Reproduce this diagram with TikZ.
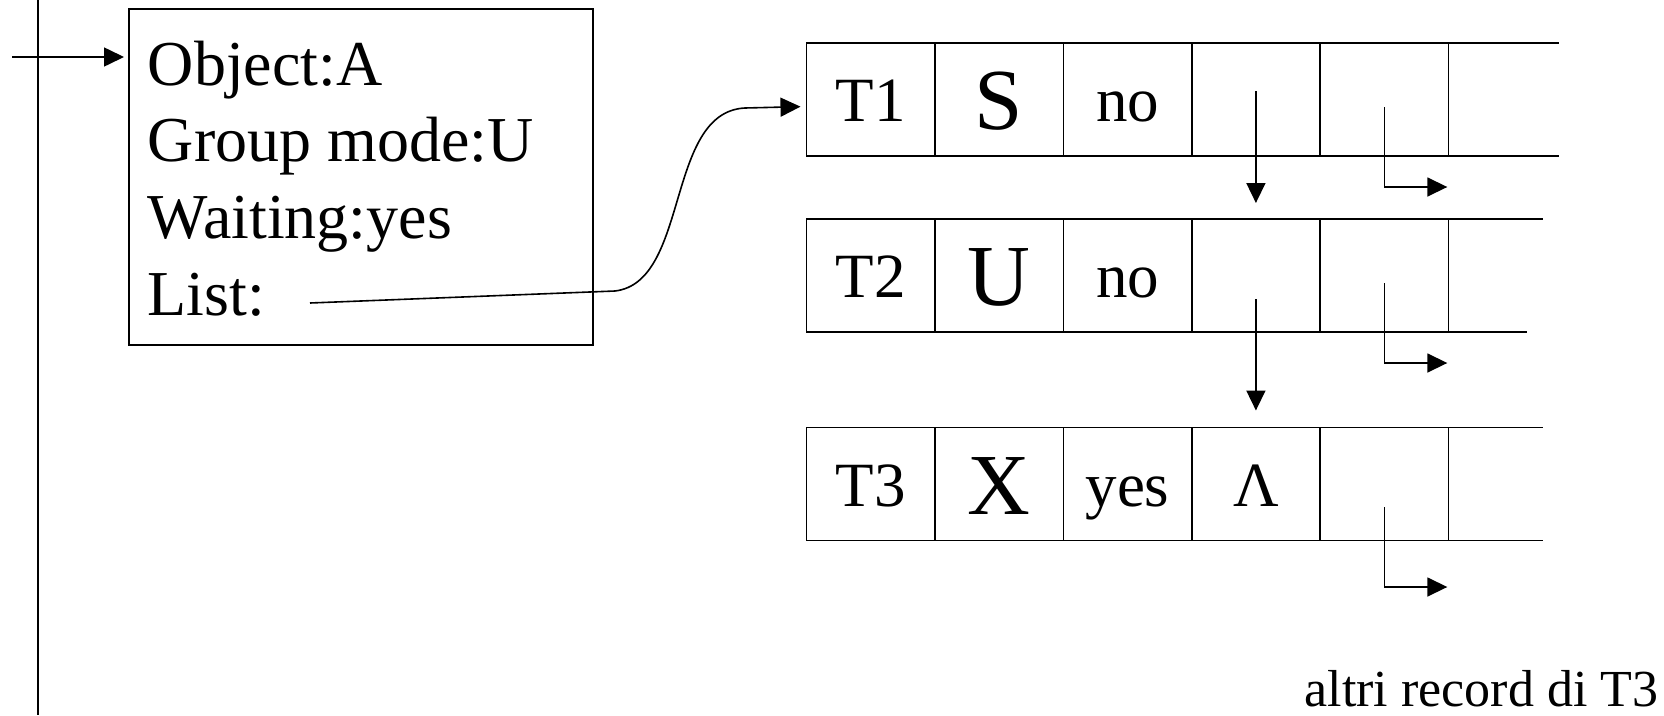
\documentclass[tikz,border=0pt]{standalone}
\usepackage{fontspec}
\setmainfont{Liberation Serif}
\usetikzlibrary{arrows.meta, positioning}

\tikzset{
    field/.style={anchor=base west, inner sep=0pt, font=\fontsize{64pt}{76pt}\selectfont},
    cell/.style={draw, minimum width=128.4pt, minimum height=113pt, inner sep=0pt, outer sep=0pt,
        text height=44pt, text depth=0pt, font=\fontsize{63pt}{70pt}\selectfont},
    bigcell/.style={cell, text height=60pt, font=\fontsize{87pt}{90pt}\selectfont},
    ptr/.style={-{Triangle[length=20pt, width=19pt]}}
}

\begin{document}
\begin{tikzpicture}[x=1pt, y=-1pt, line width=1.6pt]
    \useasboundingbox (0, 0) rectangle (1664, 715);
    \draw (38, 0) -- (38, 715);
    % lock header
    \node [draw, minimum width=464pt, minimum height=336pt, inner sep=0pt, outer sep=0pt, anchor=north west] (obj) at (129, 9) {};
    \node [field] (oname) at (147, 85) {Object:A};
    \node [field] (gmode) at (147, 161.7) {Group mode:U};
    \node [field] (wait) at (147, 238.3) {Waiting:yes};
    \node [field] (list) at (147, 315) {List:};
    \coordinate (entry) at (12, 57);
    \coordinate (lptr) at (310, 303);
    \draw [ptr, shorten >=5pt] (entry) -- (entry -| obj.west);
    % records
    \node [cell] (r1a) at (870.7, 99.5) {T1};
    \node [bigcell, right=0pt of r1a] (r1b) {S};
    \node [cell, right=0pt of r1b] (r1c) {no};
    \node [cell, right=0pt of r1c] (r1d) {};
    \node [cell, right=0pt of r1d] (r1e) {};
    \node [cell] (r2a) at (870.7, 275.5) {T2};
    \node [bigcell, right=0pt of r2a] (r2b) {U};
    \node [cell, right=0pt of r2b] (r2c) {no};
    \node [cell, right=0pt of r2c] (r2d) {};
    \node [cell, right=0pt of r2d] (r2e) {};
    \node [cell] (r3a) at (870.7, 484) {T3};
    \node [bigcell, right=0pt of r3a] (r3b) {X};
    \node [cell, right=0pt of r3b] (r3c) {yes};
    \node [cell, right=0pt of r3c] (r3d) {Λ};
    \node [cell, right=0pt of r3d] (r3e) {};
    \draw (r1e.north east) -- ++(110.5, 0);
    \draw (r1e.south east) -- ++(110.5, 0);
    \draw (r2e.north east) -- ++(94.5, 0);
    \draw (r2e.south east) -- ++(78.5, 0);
    \draw (r3e.north east) -- ++(94.5, 0);
    \draw (r3e.south east) -- ++(94.5, 0);
    % pointers
    \draw [ptr, shorten >=6pt] (lptr) -- (615, 291) .. controls (690, 282) and (665, 112) .. (745, 108) -- ([yshift=-7pt]r1a.west);
    \draw [ptr, shorten >=16pt] ([yshift=8.5pt]r1d.center) -- (r2d.north);
    \draw [ptr, shorten >=17pt] ([yshift=-23.5pt]r2d.center) -- (r3d.north);
    \draw [ptr] ([yshift=-7.5pt]r1e.center) -- ++(0, 80) -- ++(63, 0);
    \draw [ptr] ([yshift=-7.5pt]r2e.center) -- ++(0, 80) -- ++(63, 0);
    \draw [ptr] ([yshift=-23pt]r3e.center) -- ++(0, 80) -- ++(63, 0);
    \node [anchor=base east, inner sep=0pt, font=\fontsize{52pt}{60pt}\selectfont] (more) at (1659, 706) {altri record di T3};
\end{tikzpicture}
\end{document}
